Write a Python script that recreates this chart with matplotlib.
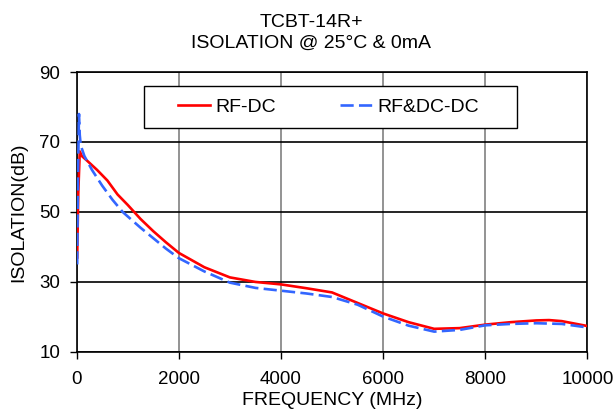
import numpy as np
from matplotlib import pyplot as plt
from matplotlib.patches import Rectangle

plt.rcParams['font.family'] = ['Liberation Sans', 'DejaVu Sans']

# RF-DC
rf_freq = [10, 30, 60, 100, 200, 400, 600, 800, 1000, 1250, 1500, 1750, 2000, 2500, 3000, 3500,
           4000, 4500, 5000, 5250, 5500, 5750, 6000, 6500, 7000, 7500, 8000, 8500, 9000, 9250,
           9500, 10000]
rf_iso = [37, 55, 67.3, 66, 64.7, 62, 59, 55, 52, 48, 44.5, 41.3, 38.3, 34.2, 31.3, 30,
          29.3, 28.2, 27, 25.5, 24, 22.5, 21, 18.5, 16.6, 16.8, 17.8, 18.5, 19, 19.1,
          18.8, 17.4]

# RF&DC-DC
rfdc_freq = [10, 25, 45, 60, 80, 150, 300, 500, 700, 900, 1250, 1500, 1750, 2000, 2500, 3000,
             3500, 4000, 4500, 5000, 5500, 6000, 6500, 7000, 7500, 8000, 8500, 9000, 9500, 10000]
rfdc_iso = [35, 60, 78, 72, 69, 66, 62, 57.5, 53.5, 50, 45.5, 42.5, 39.5, 36.8, 33, 29.8,
            28.3, 27.5, 26.7, 25.7, 23.5, 20.1, 17.5, 15.8, 16.3, 17.6, 18.0, 18.2, 18.0, 17.0]

fig = plt.figure(figsize=(6.16, 4.15), dpi=100)
ax = fig.add_axes([0.1245, 0.152, 0.829, 0.6745])

ax.plot(rf_freq, rf_iso, color='#ff0000', lw=1.9, label='RF-DC', zorder=3)
ax.plot(rfdc_freq, rfdc_iso, color='#3366ff', lw=1.9, dashes=(5, 2),
        label='RF&DC-DC', zorder=3)

ax.set_xlim(0, 10000)
ax.set_ylim(10, 90)
ax.set_xticks(np.arange(0, 10001, 2000))
ax.set_yticks(np.arange(10, 91, 20))
ax.tick_params(axis='x', labelsize=13.5, length=5, width=1, direction='out', pad=9)
ax.tick_params(axis='y', labelsize=13.5, length=5, width=1, direction='out', pad=7)
ax.xaxis.grid(True, color='#808080', lw=1.2)
ax.yaxis.grid(True, color='black', lw=1.2)
for s in ax.spines.values():
    s.set_color('black')
    s.set_linewidth(1.2)

ax.set_xlabel('FREQUENCY (MHz)', fontsize=14, va='top')
ax.xaxis.set_label_coords(0.5, -0.143)
ax.set_ylabel('ISOLATION(dB)', fontsize=14)
ax.yaxis.set_label_coords(-0.097, 0.5)

fig.text(0.505, 0.9357, 'TCBT-14R+', fontsize=14, ha='center', va='baseline')
fig.text(0.505, 0.8843, 'ISOLATION @ 25°C & 0mA', fontsize=14, ha='center', va='baseline')

# legend box
ax.add_patch(Rectangle((0.132, 0.8), 0.731, 0.15, transform=ax.transAxes,
                       facecolor='white', edgecolor='black', lw=1, zorder=4))
leg = ax.legend(loc='center left', bbox_to_anchor=(0.1985, 0.875), ncol=2, fontsize=14,
                frameon=False, borderpad=0, borderaxespad=0, handlelength=1.65,
                handletextpad=0.26, columnspacing=3.3)
leg.set_zorder(5)

fig.savefig('out.png', dpi=100)
